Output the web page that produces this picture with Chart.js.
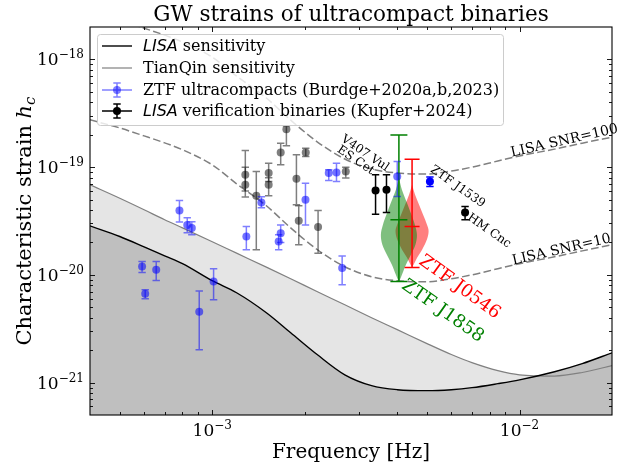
<!DOCTYPE html>
<html>
<head>
<meta charset="utf-8">
<script src="https://cdn.jsdelivr.net/npm/chart.js@4.4.1/dist/chart.umd.min.js"></script>
<style>
	html, body { margin: 0; padding: 0; background: #fff; }
</style>
</head>
<body>
<canvas id="gw" width="626" height="466"></canvas>
<script>
// sensitivity curves and SNR contours
const curveFreq = [4e-4, 5e-4, 6e-4, 7e-4, 8e-4, 1e-3, 1.2e-3, 1.5e-3, 1.8e-3, 2.2e-3, 2.7e-3, 3.3e-3, 4e-3, 5e-3, 6e-3, 7e-3, 8.5e-3, 1e-2, 1.3e-2, 1.6e-2, 2e-2];
const lisaStrain = [2.85e-20, 2.27e-20, 1.82e-20, 1.50e-20, 1.27e-20, 8.82e-21, 6.82e-21, 4.45e-21, 2.90e-21, 1.81e-21, 1.18e-21, 9.36e-22, 8.59e-22, 8.41e-22, 8.59e-22, 8.97e-22, 9.77e-22, 1.06e-21, 1.26e-21, 1.50e-21, 1.89e-21];
const tianqinStrain = [6.85e-20, 5.14e-20, 4.02e-20, 3.25e-20, 2.73e-20, 2.03e-20, 1.59e-20, 1.18e-20, 9.21e-21, 6.97e-21, 5.28e-21, 4.00e-21, 3.10e-21, 2.30e-21, 1.82e-21, 1.53e-21, 1.29e-21, 1.18e-21, 1.15e-21, 1.24e-21, 1.44e-21];
const snr10Strain = [2.75e-19, 2.31e-19, 1.95e-19, 1.68e-19, 1.45e-19, 1.05e-19, 7.0e-20, 4.38e-20, 2.73e-20, 1.71e-20, 1.19e-20, 9.6e-21, 8.82e-21, 8.63e-21, 9.2e-21, 1.0e-20, 1.14e-20, 1.27e-20, 1.47e-20, 1.67e-20, 1.9e-20];
const snr100Strain = [2.75e-18, 2.31e-18, 1.95e-18, 1.68e-18, 1.45e-18, 1.05e-18, 7.0e-19, 4.38e-19, 2.73e-19, 1.71e-19, 1.19e-19, 9.6e-20, 8.82e-20, 8.63e-20, 9.2e-20, 1.0e-19, 1.14e-19, 1.27e-19, 1.47e-19, 1.67e-19, 1.9e-19];

// verification binaries shown faded
const grayFreq = [1.743e-3, 1.670e-3, 2.015e-3, 1.281e-3, 1.281e-3, 1.391e-3, 1.526e-3, 1.526e-3, 1.879e-3, 1.912e-3, 2.21e-3, 2.72e-3];
const grayStrain = [2.25e-19, 1.366e-19, 1.366e-19, 8.48e-20, 6.85e-20, 5.42e-20, 8.80e-20, 6.85e-20, 7.79e-20, 3.18e-20, 2.78e-20, 9.10e-20];
const grayHi = [2.42e-19, 1.67e-19, 1.50e-19, 1.43e-19, 1.0e-19, 9.10e-20, 1.089e-19, 7.96e-20, 1.30e-19, 4.38e-20, 3.96e-20, 1.0e-19];
const grayLo = [1.576e-19, 1.05e-19, 1.254e-19, 6.0e-20, 5.27e-20, 1.71e-20, 7.35e-20, 5.42e-20, 4.47e-20, 1.90e-20, 1.59e-20, 7.91e-20];

// ZTF ultracompacts
const blueFreq = [7.82e-4, 8.29e-4, 8.58e-4, 1.291e-3, 1.445e-3, 1.645e-3, 1.670e-3, 2.011e-3, 2.394e-3, 2.537e-3, 2.647e-3, 5.91e-4, 6.57e-4, 6.05e-4, 1.01e-3, 9.07e-4, 4.0e-3];
const blueStrain = [3.96e-20, 2.91e-20, 2.72e-20, 2.27e-20, 4.69e-20, 2.04e-20, 2.44e-20, 4.97e-20, 8.80e-20, 8.91e-20, 1.156e-20, 1.196e-20, 1.115e-20, 6.68e-21, 8.68e-21, 4.55e-21, 8.18e-20];
const blueHi = [4.90e-20, 3.39e-20, 3.11e-20, 2.81e-20, 5.30e-20, 2.36e-20, 2.91e-20, 7.10e-20, 9.44e-20, 1.089e-19, 1.50e-20, 1.33e-20, 1.33e-20, 7.27e-21, 1.14e-20, 7.07e-21, 1.127e-19];
const blueLo = [3.09e-20, 2.46e-20, 2.36e-20, 1.71e-20, 4.19e-20, 1.71e-20, 2.0e-20, 2.91e-20, 7.51e-20, 7.35e-20, 8.09e-21, 1.053e-20, 8.87e-21, 6.0e-21, 5.87e-21, 2.02e-21, 5.34e-20];

// ZTF J1539 (solid)
const j1539Freq = [5.11e-3];
const j1539Strain = [7.35e-20];
const j1539Hi = [8.08e-20];
const j1539Lo = [6.61e-20];

// labelled verification binaries (V407 Vul, ES Cet, HM Cnc)
const blackFreq = [3.40e-3, 3.69e-3, 6.65e-3];
const blackStrain = [6.07e-20, 6.16e-20, 3.79e-20];
const blackHi = [8.48e-20, 8.48e-20, 4.31e-20];
const blackLo = [3.66e-20, 3.79e-20, 3.24e-20];

// violins: profile strain + half width in decades of frequency
const j1858Freq = 4.05e-3;
const j1858Range = [8.68e-21, 1.99e-19];
const j1858Median = 3.24e-20;
const j1858Profile = [7.96e-20, 6.16e-20, 4.66e-20, 3.61e-20, 2.91e-20, 2.36e-20, 1.90e-20, 1.536e-20, 1.24e-20, 1.0e-20, 8.82e-21];
const j1858Width = [0, 0.0098, 0.0261, 0.0408, 0.0522, 0.0587, 0.0538, 0.0391, 0.0228, 0.0098, 0.0016];

const j0546Freq = 4.47e-3;
const j0546Range = [1.17e-20, 1.186e-19];
const j0546Median = 2.81e-20;
const j0546Profile = [6.85e-20, 5.54e-20, 4.47e-20, 3.61e-20, 2.91e-20, 2.55e-20, 2.15e-20, 1.71e-20, 1.44e-20, 1.24e-20, 1.19e-20];
const j0546Width = [0, 0.0098, 0.0228, 0.0359, 0.0489, 0.0538, 0.0489, 0.0326, 0.0163, 0.0049, 0];

const xTicksMajor = [1e-3, 1e-2];
const yTicksMajor = [1e-21, 1e-20, 1e-19, 1e-18];

const SERIF = '"DejaVu Serif", serif';
const SANS = '"DejaVu Sans", sans-serif';

function xy(xs, ys) {
	return xs.map((x, i) => ({ x: x, y: ys[i] }));
}

// closed outline of a violin, down the left side and back up the right
function violinOutline(fc, prof, wid) {
	const pts = [];
	for (let i = 0; i < prof.length; i++) pts.push({ x: fc / Math.pow(10, wid[i]), y: prof[i] });
	for (let i = prof.length - 1; i >= 0; i--) pts.push({ x: fc * Math.pow(10, wid[i]), y: prof[i] });
	return pts;
}

function minorTicks(lo, hi) {
	const out = [];
	for (let e = Math.floor(Math.log10(lo)); e <= Math.ceil(Math.log10(hi)); e++) {
		for (let k = 2; k <= 9; k++) {
			const v = k * Math.pow(10, e);
			if (v > lo * 1.0001 && v < hi * 0.9999) out.push(v);
		}
	}
	return out;
}

function powLabel(ctx, exp, x, y, align) {
	ctx.font = "17px " + SERIF;
	const base = "10";
	const sup = "\u2212" + exp;
	const w1 = ctx.measureText(base).width;
	ctx.font = "12px " + SERIF;
	const w2 = ctx.measureText(sup).width;
	const w = w1 + w2;
	const x0 = align === "center" ? x - w / 2 : x - w;
	ctx.textAlign = "left";
	ctx.textBaseline = "alphabetic";
	ctx.font = "17px " + SERIF;
	ctx.fillText(base, x0, y);
	ctx.font = "12px " + SERIF;
	ctx.fillText(sup, x0 + w1, y - 7);
}

const annotations = [
	{ text: "V407 Vul", f: 3.14e-3, h: 1.343e-19, rot: 34, size: 12, color: "#000" },
	{ text: "ES Cet", f: 2.93e-3, h: 1.156e-19, rot: 34, size: 12, color: "#000" },
	{ text: "ZTF J1539", f: 6.29e-3, h: 6.57e-20, rot: 35, size: 12, color: "#000" },
	{ text: "HM Cnc", f: 7.96e-3, h: 2.56e-20, rot: 35, size: 12, color: "#000" },
	{ text: "LISA SNR=100", f: 1.40e-2, h: 1.75e-19, rot: -13, size: 14, color: "#000" },
	{ text: "LISA SNR=10", f: 1.37e-2, h: 1.71e-20, rot: -13, size: 14, color: "#000" },
	{ text: "ZTF J0546", f: 6.38e-3, h: 7.67e-21, rot: 36, size: 18, color: "red" },
	{ text: "ZTF J1858", f: 5.62e-3, h: 4.60e-21, rot: 35, size: 18, color: "green" },
];

const decor = {
	id: "decor",
	// error bars go down just before their markers
	beforeDatasetDraw(chart, args) {
		const ds = chart.data.datasets[args.index];
		if (!ds.errHi) return;
		const ctx = chart.ctx;
		const ys = chart.scales.y;
		ctx.save();
		ctx.strokeStyle = ds.errColor;
		ctx.lineWidth = 1.5;
		args.meta.data.forEach((pt, i) => {
			const yh = ys.getPixelForValue(ds.errHi[i]);
			const yl = ys.getPixelForValue(ds.errLo[i]);
			ctx.beginPath();
			ctx.moveTo(pt.x, yh);
			ctx.lineTo(pt.x, yl);
			ctx.moveTo(pt.x - 3.7, yh);
			ctx.lineTo(pt.x + 3.7, yh);
			ctx.moveTo(pt.x - 3.7, yl);
			ctx.lineTo(pt.x + 3.7, yl);
			ctx.stroke();
		});
		ctx.restore();
	},
	// violin extrema / median lines
	afterDatasetDraw(chart, args) {
		const ds = chart.data.datasets[args.index];
		if (!ds.violin) return;
		const v = ds.violin;
		const ctx = chart.ctx;
		const xs = chart.scales.x;
		const ys = chart.scales.y;
		const cx = xs.getPixelForValue(v.center);
		const y1 = ys.getPixelForValue(v.range[1]);
		const y0 = ys.getPixelForValue(v.range[0]);
		const ym = ys.getPixelForValue(v.median);
		ctx.save();
		ctx.strokeStyle = v.color;
		ctx.lineWidth = 1.5;
		ctx.beginPath();
		ctx.moveTo(cx, y1);
		ctx.lineTo(cx, y0);
		[y1, y0, ym].forEach((yy) => {
			ctx.moveTo(cx - v.cap, yy);
			ctx.lineTo(cx + v.cap, yy);
		});
		ctx.stroke();
		ctx.restore();
	},
	afterDraw(chart) {
		const ctx = chart.ctx;
		const ca = chart.chartArea;
		const xs = chart.scales.x;
		const ys = chart.scales.y;
		ctx.save();
		// frame
		ctx.strokeStyle = "#000";
		ctx.lineWidth = 1.1;
		ctx.strokeRect(ca.left, ca.top, ca.right - ca.left, ca.bottom - ca.top);
		// inward ticks on all sides
		ctx.lineWidth = 0.9;
		ctx.beginPath();
		const xMinor = minorTicks(xs.min, xs.max);
		const yMinor = minorTicks(ys.min, ys.max);
		xTicksMajor.concat(xMinor).forEach((v) => {
			const len = xTicksMajor.includes(v) ? 5 : 3;
			const px = Math.round(xs.getPixelForValue(v)) + 0.5;
			ctx.moveTo(px, ca.bottom);
			ctx.lineTo(px, ca.bottom - len);
			ctx.moveTo(px, ca.top);
			ctx.lineTo(px, ca.top + len);
		});
		yTicksMajor.concat(yMinor).forEach((v) => {
			const len = yTicksMajor.includes(v) ? 5 : 3;
			const py = Math.round(ys.getPixelForValue(v)) + 0.5;
			ctx.moveTo(ca.left, py);
			ctx.lineTo(ca.left + len, py);
			ctx.moveTo(ca.right, py);
			ctx.lineTo(ca.right - len, py);
		});
		ctx.stroke();
		// tick labels
		ctx.fillStyle = "#000";
		xTicksMajor.forEach((v) => {
			powLabel(ctx, -Math.round(Math.log10(v)), xs.getPixelForValue(v), ca.bottom + 21, "center");
		});
		yTicksMajor.forEach((v) => {
			powLabel(ctx, -Math.round(Math.log10(v)), ca.left - 6, ys.getPixelForValue(v) + 6, "right");
		});
		// title and axis labels
		const midX = (ca.left + ca.right) / 2;
		ctx.textAlign = "center";
		ctx.textBaseline = "alphabetic";
		ctx.font = "21.5px " + SERIF;
		ctx.fillText("GW strains of ultracompact binaries", midX, 21);
		ctx.font = "20px " + SERIF;
		ctx.fillText("Frequency [Hz]", midX, 458);
		// y label with italic h and subscript c
		ctx.save();
		ctx.translate(31, (ca.top + ca.bottom) / 2);
		ctx.rotate(-Math.PI / 2);
		ctx.font = "21px " + SERIF;
		const p1 = "Characteristic strain ";
		const w1 = ctx.measureText(p1).width;
		ctx.font = "italic 21px " + SERIF;
		const w2 = ctx.measureText("h").width;
		ctx.font = "italic 15px " + SERIF;
		const w3 = ctx.measureText("c").width;
		let x0 = -(w1 + w2 + w3) / 2;
		ctx.textAlign = "left";
		ctx.font = "21px " + SERIF;
		ctx.fillText(p1, x0, 0);
		ctx.font = "italic 21px " + SERIF;
		ctx.fillText("h", x0 + w1, 0);
		ctx.font = "italic 15px " + SERIF;
		ctx.fillText("c", x0 + w1 + w2, 4);
		ctx.restore();
		// rotated annotations
		annotations.forEach((a) => {
			ctx.save();
			ctx.translate(xs.getPixelForValue(a.f), ys.getPixelForValue(a.h));
			ctx.rotate((a.rot * Math.PI) / 180);
			ctx.font = a.size + "px " + SERIF;
			ctx.fillStyle = a.color;
			ctx.textAlign = "center";
			ctx.textBaseline = "middle";
			ctx.fillText(a.text, 0, 0);
			ctx.restore();
		});
		// legend
		const lx = 97, ly = 34, lw = 406, lh = 91;
		ctx.fillStyle = "rgba(255,255,255,0.8)";
		ctx.strokeStyle = "#cccccc";
		ctx.lineWidth = 1;
		ctx.beginPath();
		ctx.roundRect(lx + 0.5, ly + 0.5, lw, lh, 3);
		ctx.fill();
		ctx.stroke();
		const rows = [
			{ y: 46, color: "#000", width: 1.4, marker: false, ital: "LISA", rest: " sensitivity" },
			{ y: 68, color: "#808080", width: 1.2, marker: false, ital: "", rest: "TianQin sensitivity" },
			{ y: 90, color: "rgba(0,0,255,0.5)", width: 1.5, marker: true, ital: "", rest: "ZTF ultracompacts (Burdge+2020a,b,2023)" },
			{ y: 111, color: "#000", width: 1.5, marker: true, ital: "LISA", rest: " verification binaries (Kupfer+2024)" },
		];
		rows.forEach((r) => {
			ctx.strokeStyle = r.color;
			ctx.lineWidth = r.width;
			ctx.beginPath();
			ctx.moveTo(102, r.y);
			ctx.lineTo(132, r.y);
			if (r.marker) {
				ctx.moveTo(117, r.y - 7);
				ctx.lineTo(117, r.y + 7);
				ctx.moveTo(113.3, r.y - 7);
				ctx.lineTo(120.7, r.y - 7);
				ctx.moveTo(113.3, r.y + 7);
				ctx.lineTo(120.7, r.y + 7);
			}
			ctx.stroke();
			if (r.marker) {
				ctx.fillStyle = r.color;
				ctx.beginPath();
				ctx.arc(117, r.y, 4, 0, Math.PI * 2);
				ctx.fill();
			}
			ctx.fillStyle = "#000";
			ctx.textAlign = "left";
			ctx.textBaseline = "middle";
			let tx = 143;
			if (r.ital) {
				ctx.font = "italic 16px " + SANS;
				ctx.fillText(r.ital, tx, r.y + 1);
				tx += ctx.measureText(r.ital).width;
			}
			ctx.font = "16px " + SERIF;
			ctx.fillText(r.rest, tx, r.y + 1);
		});
		ctx.restore();
	},
};

const curveLine = {
	showLine: true,
	pointRadius: 0,
	cubicInterpolationMode: "monotone",
};

new Chart(document.getElementById("gw"), {
	type: "scatter",
	data: {
		datasets: [
			Object.assign({}, curveLine, {
				data: xy(curveFreq, tianqinStrain),
				borderColor: "#808080",
				borderWidth: 1.2,
				fill: "start",
				backgroundColor: "#e5e5e5",
				order: 12,
			}),
			Object.assign({}, curveLine, {
				data: xy(curveFreq, lisaStrain),
				borderColor: "#000",
				borderWidth: 1.4,
				fill: "start",
				backgroundColor: "#bfbfbf",
				order: 11,
			}),
			Object.assign({}, curveLine, {
				data: xy(curveFreq, snr10Strain),
				borderColor: "#808080",
				borderWidth: 1.5,
				borderDash: [7.7, 3.3],
				fill: false,
				order: 10,
			}),
			Object.assign({}, curveLine, {
				data: xy(curveFreq, snr100Strain),
				borderColor: "#808080",
				borderWidth: 1.5,
				borderDash: [7.7, 3.3],
				fill: false,
				order: 9,
			}),
			{
				data: violinOutline(j0546Freq, j0546Profile, j0546Width),
				showLine: true,
				tension: 0.35,
				pointRadius: 0,
				borderWidth: 0,
				borderColor: "rgba(255,0,0,0)",
				backgroundColor: "rgba(255,0,0,0.5)",
				fill: "shape",
				violin: { center: j0546Freq, range: j0546Range, median: j0546Median, color: "red", cap: 7.5 },
				order: 8,
			},
			{
				data: violinOutline(j1858Freq, j1858Profile, j1858Width),
				showLine: true,
				tension: 0.35,
				pointRadius: 0,
				borderWidth: 0,
				borderColor: "rgba(0,128,0,0)",
				backgroundColor: "rgba(0,128,0,0.5)",
				fill: "shape",
				violin: { center: j1858Freq, range: j1858Range, median: j1858Median, color: "green", cap: 8.5 },
				order: 7,
			},
			{
				data: xy(grayFreq, grayStrain),
				errHi: grayHi,
				errLo: grayLo,
				errColor: "rgba(0,0,0,0.5)",
				pointRadius: 4,
				pointBorderWidth: 0,
				pointBackgroundColor: "rgba(0,0,0,0.5)",
				order: 6,
			},
			{
				data: xy(blueFreq, blueStrain),
				errHi: blueHi,
				errLo: blueLo,
				errColor: "rgba(0,0,255,0.5)",
				pointRadius: 4,
				pointBorderWidth: 0,
				pointBackgroundColor: "rgba(0,0,255,0.55)",
				order: 5,
			},
			{
				data: xy(blackFreq, blackStrain),
				errHi: blackHi,
				errLo: blackLo,
				errColor: "#000",
				pointRadius: 4,
				pointBorderWidth: 0,
				pointBackgroundColor: "#000",
				order: 4,
			},
			{
				data: xy(j1539Freq, j1539Strain),
				errHi: j1539Hi,
				errLo: j1539Lo,
				errColor: "#0000ff",
				pointRadius: 4,
				pointBorderWidth: 0,
				pointBackgroundColor: "#0000ff",
				order: 3,
			},
		],
	},
	options: {
		responsive: false,
		animation: false,
		layout: { padding: { left: 90, right: 14, top: 27, bottom: 51 } },
		scales: {
			x: { type: "logarithmic", min: 4e-4, max: 2e-2, display: false },
			y: { type: "logarithmic", min: 5e-22, max: 2e-18, display: false },
		},
		plugins: {
			legend: { display: false },
			tooltip: { enabled: false },
			filler: { drawTime: "beforeDatasetsDraw" },
		},
	},
	plugins: [decor],
});
</script>
</body>
</html>
